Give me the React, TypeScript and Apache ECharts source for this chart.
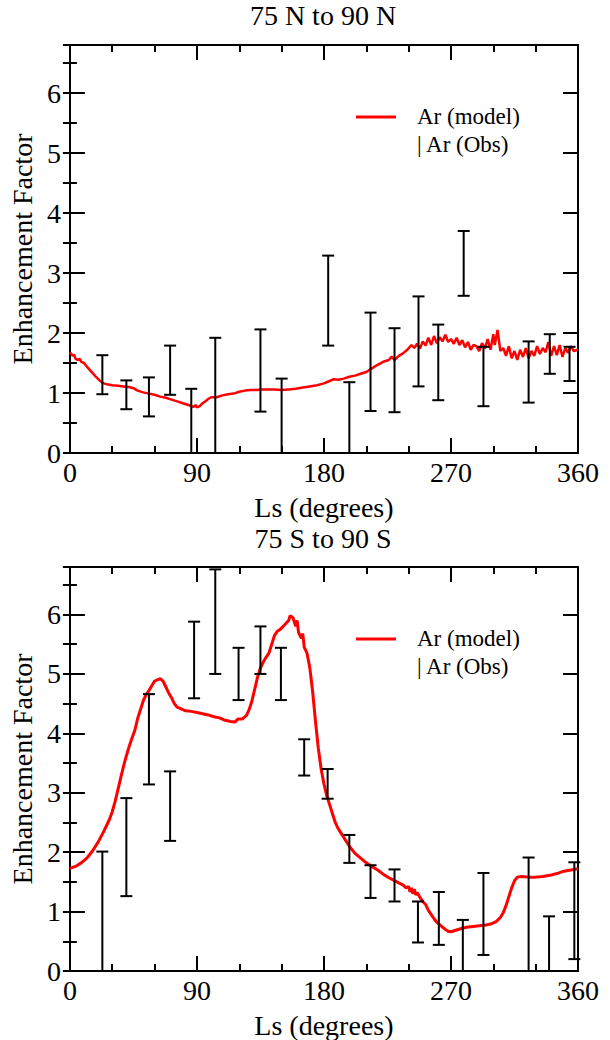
import React, { useEffect, useRef } from "react";
import * as echarts from "echarts";

const FONT = "'Liberation Serif', 'Times New Roman', serif";

// Panel titles / labels
const panelTitles = ["75 N to 90 N", "75 S to 90 S"];
const xAxisName = "Ls (degrees)";
const yAxisName = "Enhancement Factor";
const legendModel = "Ar (model)";
const legendObs = "| Ar (Obs)";

// ---- Top panel (75N-90N) model: [Ls, factor]
const northModel: [number, number][] = [
  [0, 1.68], [2, 1.62], [3, 1.64], [4, 1.57], [6, 1.55], [7, 1.57], [8, 1.52], [10, 1.5], [12, 1.44], [15, 1.36],
  [18, 1.28], [21, 1.21], [24, 1.16], [27, 1.14], [30, 1.13], [34, 1.12], [38, 1.11], [42, 1.1], [45, 1.08],
  [48, 1.04], [52, 1.01], [56, 0.99], [60, 0.97], [64, 0.94], [68, 0.92], [72, 0.89], [76, 0.86], [80, 0.83],
  [84, 0.8], [86, 0.78], [88, 0.77], [89, 0.8], [90, 0.76], [92, 0.78], [94, 0.83], [96, 0.86], [98, 0.9],
  [100, 0.93], [104, 0.93], [108, 0.96], [112, 0.98], [116, 0.99], [120, 1.02], [124, 1.04], [128, 1.05],
  [132, 1.05], [136, 1.06], [140, 1.06], [145, 1.06], [150, 1.05], [155, 1.06], [160, 1.07], [165, 1.09],
  [170, 1.11], [175, 1.13], [180, 1.16], [184, 1.2], [187, 1.23], [190, 1.22], [194, 1.24], [198, 1.27],
  [202, 1.29], [206, 1.32], [210, 1.35], [214, 1.41], [218, 1.47], [222, 1.52], [226, 1.55], [228, 1.61],
  [230, 1.55], [233, 1.62], [236, 1.66], [239, 1.72], [242, 1.8], [244, 1.75], [246, 1.82], [248, 1.74],
  [250, 1.86], [252, 1.79], [254, 1.92], [256, 1.8], [258, 1.95], [260, 1.83], [262, 1.93], [264, 1.86],
  [266, 1.97], [268, 1.85], [270, 1.9], [272, 1.82], [274, 1.92], [276, 1.8], [278, 1.88], [280, 1.76],
  [282, 1.85], [284, 1.72], [286, 1.8], [288, 1.78], [290, 1.7], [292, 1.83], [294, 1.74], [296, 1.9],
  [298, 1.72], [300, 1.98], [301, 1.8], [303, 2.05], [305, 1.7], [307, 1.75], [309, 1.62], [311, 1.78],
  [313, 1.58], [315, 1.7], [317, 1.55], [319, 1.72], [321, 1.6], [323, 1.75], [325, 1.58], [327, 1.7],
  [329, 1.62], [331, 1.78], [333, 1.65], [335, 1.75], [337, 1.68], [339, 1.85], [341, 1.62], [343, 1.78],
  [345, 1.63], [347, 1.8], [349, 1.6], [351, 1.75], [353, 1.67], [355, 1.78], [357, 1.7], [360, 1.72],
];

// Top panel observations: [Ls, low, high]
const northObs: [number, number, number][] = [
  [23, 0.98, 1.63], [40, 0.73, 1.21], [56, 0.61, 1.26], [71, 0.97, 1.79], [86, -0.5, 1.07],
  [103, -0.5, 1.92], [135, 0.69, 2.06], [150, -0.5, 1.24], [183, 1.79, 3.29], [198, -0.5, 1.18],
  [213, 0.7, 2.34], [230, 0.68, 2.08], [247, 1.11, 2.61], [261, 0.88, 2.14], [279, 2.62, 3.7],
  [293, 0.78, 1.77], [325, 0.84, 1.86], [340, 1.32, 1.98], [354, 1.2, 1.77],
];

// ---- Bottom panel (75S-90S) model
const southModel: [number, number][] = [
  [0, 1.73], [4, 1.76], [8, 1.82], [12, 1.9], [16, 2.02], [20, 2.17], [24, 2.35], [28, 2.55], [30, 2.68],
  [32, 2.85], [34, 3.05], [36, 3.25], [38, 3.45], [40, 3.62], [42, 3.78], [44, 3.92], [46, 4.05], [48, 4.25],
  [50, 4.4], [52, 4.55], [54, 4.65], [56, 4.72], [58, 4.8], [60, 4.88], [62, 4.9], [64, 4.92], [66, 4.88],
  [68, 4.78], [70, 4.68], [72, 4.6], [74, 4.5], [76, 4.44], [78, 4.42], [82, 4.38], [86, 4.37], [90, 4.35],
  [94, 4.33], [98, 4.31], [102, 4.28], [106, 4.26], [110, 4.22], [114, 4.2], [117, 4.19], [119, 4.24],
  [122, 4.24], [125, 4.3], [127, 4.4], [129, 4.55], [131, 4.75], [133, 4.95], [135, 5.1], [137, 5.2],
  [139, 5.28], [141, 5.35], [143, 5.5], [145, 5.65], [147, 5.72], [149, 5.75], [151, 5.8], [153, 5.85],
  [155, 5.9], [156, 5.98], [158, 5.95], [160, 5.8], [161, 5.9], [162, 5.7], [164, 5.6], [165, 5.68],
  [166, 5.45], [168, 5.35], [170, 5.1], [172, 4.7], [174, 4.2], [176, 3.75], [178, 3.4], [180, 3.15],
  [182, 2.95], [184, 2.8], [186, 2.65], [188, 2.5], [190, 2.4], [194, 2.25], [198, 2.1], [202, 1.98],
  [206, 1.9], [210, 1.82], [214, 1.76], [218, 1.7], [222, 1.63], [226, 1.57], [230, 1.52], [234, 1.47],
  [236, 1.45], [238, 1.4], [240, 1.42], [241, 1.33], [242, 1.4], [243, 1.3], [244, 1.38], [245, 1.28],
  [246, 1.32], [248, 1.24], [250, 1.17], [252, 1.12], [254, 1.02], [256, 0.95], [258, 0.88], [260, 0.82],
  [262, 0.78], [264, 0.74], [266, 0.7], [268, 0.67], [270, 0.66], [274, 0.69], [278, 0.72], [282, 0.74],
  [286, 0.75], [290, 0.76], [294, 0.77], [298, 0.79], [302, 0.83], [305, 0.9], [307, 0.98], [309, 1.1],
  [311, 1.25], [313, 1.4], [315, 1.52], [317, 1.58], [320, 1.59], [325, 1.58], [330, 1.58], [335, 1.59],
  [340, 1.61], [345, 1.64], [350, 1.68], [355, 1.7], [360, 1.72],
];

const southObs: [number, number, number][] = [
  [23, -0.5, 2.01], [40, 1.26, 2.91], [56, 3.14, 4.66], [71, 2.19, 3.36], [88, 4.59, 5.88],
  [103, 5.0, 6.76], [119.5, 4.56, 5.44], [135, 5.0, 5.8], [149.5, 4.56, 5.44], [166, 3.29, 3.9],
  [182.6, 2.9, 3.4], [198, 1.82, 2.29], [213, 1.23, 1.78], [230, 1.17, 1.71], [246.6, 0.48, 1.17],
  [261.4, 0.44, 1.33], [278.4, -0.5, 0.86], [293, 0.27, 1.65], [325, -0.5, 1.91], [339.5, -0.5, 0.92],
  [357.4, 0.2, 1.83],
];

const X_MIN = 0, X_MAX = 360, X_STEP = 90;
const Y_MIN = 0, Y_MAX = 6.8, Y_STEP = 1, Y_MINOR = 0.5;

const GRIDS = [
  { left: 68, top: 45, width: 510, height: 408 },
  { left: 68, top: 567, width: 510, height: 407 },
];

const black = "#000";
const lineSt = { color: black, width: 2 };

function xAxes(gi: number) {
  const base: any = {
    type: "value", gridIndex: gi, min: X_MIN, max: X_MAX, interval: X_STEP,
    axisLine: { show: true, onZero: false, lineStyle: lineSt },
    axisTick: { show: true, inside: true, length: 15, lineStyle: lineSt },
    minorTick: { show: true, splitNumber: 3, length: 7, lineStyle: lineSt },
    splitLine: { show: false }, minorSplitLine: { show: false },
  };
  return [
    {
      ...base, position: "bottom",
      axisLabel: { show: true, fontSize: 28, color: black, fontFamily: FONT, margin: 5 },
      name: xAxisName, nameLocation: "middle", nameGap: 40,
      nameTextStyle: { fontSize: 28, color: black, fontFamily: FONT },
    },
    { ...base, position: "top", axisLabel: { show: false } },
  ];
}

function yAxes(gi: number) {
  const major: any = {
    type: "value", gridIndex: gi, min: Y_MIN, max: Y_MAX, interval: Y_STEP,
    axisLine: { show: true, onZero: false, lineStyle: lineSt },
    axisTick: { show: true, inside: true, length: 15, lineStyle: lineSt },
    splitLine: { show: false },
  };
  const minor: any = {
    type: "value", gridIndex: gi, min: Y_MIN, max: Y_MAX, interval: Y_MINOR,
    axisLine: { show: false },
    axisTick: { show: true, inside: true, length: 7, lineStyle: lineSt },
    axisLabel: { show: false }, splitLine: { show: false },
  };
  return [
    {
      ...major, position: "left",
      axisLabel: { show: true, showMaxLabel: false, fontSize: 28, color: black, fontFamily: FONT, margin: 9 },
      name: yAxisName, nameLocation: "middle", nameGap: 22, nameRotate: 90,
      nameTextStyle: { fontSize: 28, color: black, fontFamily: FONT },
    },
    { ...minor, position: "left" },
    { ...major, position: "right", axisLabel: { show: false } },
    { ...minor, position: "right" },
  ];
}

function errorBarRender(params: any, api: any) {
  const x = api.value(0);
  const lo = api.value(1);
  const hi = api.value(2);
  const pHi = api.coord([x, hi]);
  const pLo = api.coord([x, lo]);
  const cs = params.coordSys;
  const top = cs.y, bot = cs.y + cs.height;
  const yHi = Math.max(pHi[1], top);
  const yLo = Math.min(pLo[1], bot);
  const cx = pHi[0];
  const half = 6;
  const style = { stroke: black, lineWidth: 2 };
  const children: any[] = [
    { type: "line", shape: { x1: cx, y1: yHi, x2: cx, y2: yLo }, style },
  ];
  if (pHi[1] >= top - 0.5) children.push({ type: "line", shape: { x1: cx - half, y1: pHi[1], x2: cx + half, y2: pHi[1] }, style });
  if (pLo[1] <= bot + 0.5) children.push({ type: "line", shape: { x1: cx - half, y1: pLo[1], x2: cx + half, y2: pLo[1] }, style });
  return { type: "group", children };
}

function legendGraphics(gridTop: number) {
  const dy = gridTop - 45;
  return [
    { type: "line", shape: { x1: 356, y1: 117 + dy, x2: 396, y2: 117 + dy }, style: { stroke: "#ff0000", lineWidth: 3 } },
    { type: "text", x: 417, y: 116 + dy, style: { text: legendModel, font: `23px ${FONT}`, fill: black, align: "left", verticalAlign: "middle" } },
    { type: "text", x: 417, y: 144 + dy, style: { text: legendObs, font: `23px ${FONT}`, fill: black, align: "left", verticalAlign: "middle" } },
  ];
}

export default function App() {
  const ref = useRef<HTMLDivElement>(null);
  useEffect(() => {
    if (!ref.current) return;
    const chart = echarts.init(ref.current, null, { renderer: "svg" });
    const option: any = {
      animation: false,
      backgroundColor: "#fff",
      grid: GRIDS.map((g) => ({ ...g, containLabel: false })),
      xAxis: [...xAxes(0), ...xAxes(1)],
      yAxis: [...yAxes(0), ...yAxes(1)],
      graphic: [
        { type: "text", x: 323, y: 15.5, style: { text: panelTitles[0], font: `28px ${FONT}`, fill: black, align: "center", verticalAlign: "middle" } },
        { type: "text", x: 323, y: 538, style: { text: panelTitles[1], font: `28px ${FONT}`, fill: black, align: "center", verticalAlign: "middle" } },
        ...legendGraphics(GRIDS[0].top),
        ...legendGraphics(GRIDS[1].top),
      ],
      series: [
        {
          type: "line", name: legendModel, xAxisIndex: 0, yAxisIndex: 0, data: northModel,
          showSymbol: false, symbol: "none", lineStyle: { color: "#ff0000", width: 2.5 }, z: 3,
        },
        {
          type: "custom", name: "Ar (Obs)", xAxisIndex: 0, yAxisIndex: 0, data: northObs,
          renderItem: errorBarRender, encode: { x: 0, y: [1, 2] }, z: 4,
        },
        {
          type: "line", name: legendModel, xAxisIndex: 2, yAxisIndex: 4, data: southModel,
          showSymbol: false, symbol: "none", lineStyle: { color: "#ff0000", width: 3 }, z: 3,
        },
        {
          type: "custom", name: "Ar (Obs)", xAxisIndex: 2, yAxisIndex: 4, data: southObs,
          renderItem: errorBarRender, encode: { x: 0, y: [1, 2] }, z: 4,
        },
      ],
    };
    chart.setOption(option);
    return () => chart.dispose();
  }, []);
  return (
    <div
      ref={ref}
      style={{ position: "absolute", left: 0, top: 0, width: 610, height: 1040, background: "#fff" }}
    />
  );
}
